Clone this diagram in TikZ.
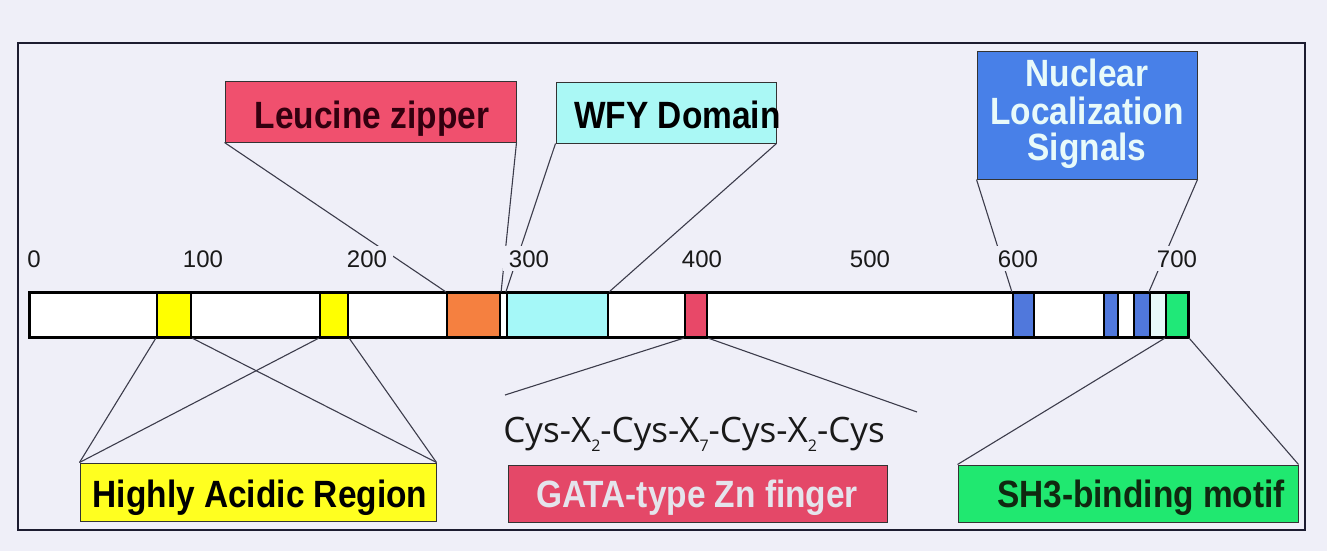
\documentclass[tikz,border=0pt]{standalone}
\usepackage{fontspec}
\setmainfont{Liberation Sans}
\newfontfamily\boxfont[FakeStretch=0.88]{Liberation Sans}
\newfontfamily\cysfont{Open Sans}
\usetikzlibrary{fit}
\definecolor{bg}{RGB}{239,239,248}
\definecolor{framec}{RGB}{28,28,48}
\definecolor{linec}{RGB}{60,60,75}
\definecolor{leuc}{RGB}{240,80,110}
\definecolor{leutext}{RGB}{50,0,15}
\definecolor{wfyc}{RGB}{170,248,245}
\definecolor{nlsc}{RGB}{72,128,232}
\definecolor{nlstext}{RGB}{232,250,250}
\definecolor{acidc}{RGB}{255,255,32}
\definecolor{gatac}{RGB}{228,72,104}
\definecolor{gatatext}{RGB}{228,228,236}
\definecolor{shc}{RGB}{32,232,112}
\definecolor{shtext}{RGB}{16,40,16}
\definecolor{yel}{RGB}{255,255,0}
\definecolor{orng}{RGB}{245,128,64}
\definecolor{cyn}{RGB}{165,248,248}
\definecolor{redseg}{RGB}{232,72,104}
\definecolor{blu}{RGB}{80,120,220}
\definecolor{lightseg}{RGB}{232,250,250}
\definecolor{grn}{RGB}{32,232,120}
\definecolor{tickc}{RGB}{25,25,25}
\newcommand\subx[1]{\raisebox{-0.5ex}{\fontsize{8}{8}\selectfont #1}}
\tikzset{
  seg/.style={draw=black, line width=1.1pt, inner sep=0pt},
  lbox/.style={draw=black!80, line width=0.5pt, inner sep=0pt},
  conn/.style={draw=linec, line width=0.55pt},
  ticklab/.style={fill=bg, inner xsep=3pt, inner ysep=2pt, anchor=base, text=tickc, font=\fontsize{12}{12}\selectfont},
  btext/.style={font=\boxfont\bfseries\fontsize{19}{19}\selectfont, inner sep=0pt, anchor=base}
}
\begin{document}
\begin{tikzpicture}[x=0.5pt,y=-0.5pt]
\fill[bg] (0,0) rectangle (1327,551);
\useasboundingbox (0,0) rectangle (1327,551);
\draw[framec, line width=1pt] (18,43) rectangle (1305,530);

% label boxes
\node[lbox, fill=leuc, fit={(225,82) (516,142)}] (leu) {};
\node[lbox, fill=wfyc, fit={(556,83) (776,143)}] (wfy) {};
\node[lbox, fill=nlsc, fit={(977,52) (1197,179)}] (nls) {};
\node[lbox, fill=acidc, fit={(80,463) (436,521)}] (acid) {};
\node[lbox, fill=gatac, fit={(508,465) (887,522)}] (gata) {};
\node[lbox, fill=shc, fit={(958,465) (1298,522)}] (sh3) {};

% protein bar
\node[fill=white, inner sep=0pt, fit={(30,293) (1188,337)}] (bar) {};
\node[seg, fill=yel, fit={(157,293) (191,337)}] (y1) {};
\node[seg, fill=yel, fit={(320,293) (348,337)}] (y2) {};
\node[seg, fill=orng, fit={(447,293) (500,337)}] (orange) {};
\node[seg, fill=cyn, fit={(507,293) (608,337)}] (cyan) {};
\node[seg, fill=redseg, fit={(685,293) (707,337)}] (red) {};
\node[seg, fill=blu, fit={(1013,293) (1034,337)}] (b1) {};
\node[seg, fill=blu, fit={(1104,293) (1118,337)}] (b2) {};
\node[seg, fill=blu, fit={(1134,293) (1150,337)}] (b3) {};
\node[seg, fill=lightseg, fit={(1150,293) (1166,337)}] (lt) {};
\node[seg, fill=grn, fit={(1166,293) (1188,337)}] (green) {};
\draw[black, line width=1.5pt] (bar.north west) rectangle (bar.south east);

% connectors
\coordinate (c1) at (505,395);
\coordinate (c2) at (917,412);
\draw[conn] (leu.south west) -- (orange.north west);
\draw[conn] (leu.south east) -- (orange.north east);
\draw[conn] (wfy.south west) -- (cyan.north west);
\draw[conn] (wfy.south east) -- (cyan.north east);
\draw[conn] (nls.south west) -- (b1.north west);
\draw[conn] (nls.south east) -- (lt.north west);
\draw[conn] (acid.north west) -- (y1.south west);
\draw[conn] (acid.north west) -- (y2.south west);
\draw[conn] (acid.north east) -- (y1.south east);
\draw[conn] (acid.north east) -- (y2.south east);
\draw[conn] (red.south west) -- (c1);
\draw[conn] (red.south east) -- (c2);
\draw[conn] (sh3.north west) -- (green.south west);
\draw[conn] (sh3.north east) -- (green.south east);

% tick labels
\node[ticklab] (t0) at (34,267) {0};
\node[ticklab] (t100) at (203,267) {100};
\node[ticklab] (t200) at (367,267) {200};
\node[ticklab] (t300) at (529,267) {300};
\node[ticklab] (t400) at (702,267) {400};
\node[ticklab] (t500) at (870,267) {500};
\node[ticklab] (t600) at (1018,267) {600};
\node[ticklab] (t700) at (1177,267) {700};

% box texts
\node[btext, text=leutext] (leut) at (372,128) {Leucine zipper};
\node[btext, text=black, anchor=base west] (wfyt) at (574,128) {WFY Domain};
\node[btext, text=nlstext] (nls1) at (1087,87) {Nuclear};
\node[btext, text=nlstext] (nls2) at (1087,125) {Localization};
\node[btext, text=nlstext] (nls3) at (1087,161) {Signals};
\node[btext, text=black] (acidt) at (260,507) {Highly Acidic Region};
\node[btext, text=gatatext] (gatat) at (697,507) {GATA-type Zn finger};
\node[btext, text=shtext] (sh3t) at (1141,507) {SH3-binding motif};

% motif
\node[anchor=base west, inner sep=0pt, text=black!90, font=\cysfont\fontsize{17.5}{17.5}\selectfont] (cys) at (503,442)
  {Cys-X\subx{2}-Cys-X\subx{7}-Cys-X\subx{2}-Cys};
\end{tikzpicture}
\end{document}
